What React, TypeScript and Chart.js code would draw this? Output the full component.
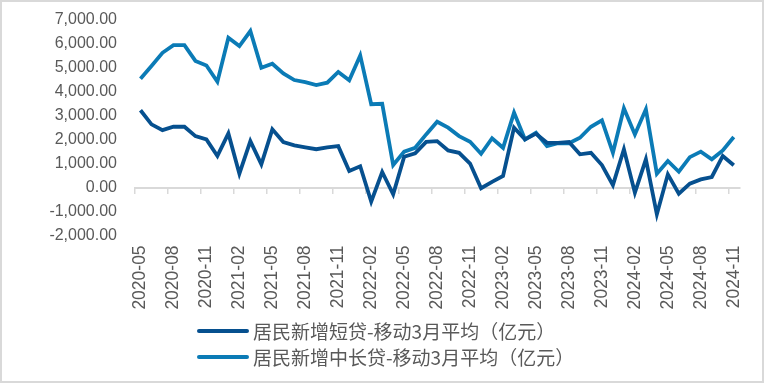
import React, { useEffect, useRef } from "react";
import { Chart, registerables } from "chart.js";

Chart.register(...registerables);

const months: string[] = [
  "2020-05", "2020-06", "2020-07", "2020-08", "2020-09", "2020-10", "2020-11", "2020-12",
  "2021-01", "2021-02", "2021-03", "2021-04", "2021-05", "2021-06", "2021-07", "2021-08",
  "2021-09", "2021-10", "2021-11", "2021-12", "2022-01", "2022-02", "2022-03", "2022-04",
  "2022-05", "2022-06", "2022-07", "2022-08", "2022-09", "2022-10", "2022-11", "2022-12",
  "2023-01", "2023-02", "2023-03", "2023-04", "2023-05", "2023-06", "2023-07", "2023-08",
  "2023-09", "2023-10", "2023-11", "2023-12", "2024-01", "2024-02", "2024-03", "2024-04",
  "2024-05", "2024-06", "2024-07", "2024-08", "2024-09", "2024-10", "2024-11",
];

const shortTermLoans: number[] = [
  3230, 2640, 2400, 2540, 2540, 2150, 2010, 1320, 2260, 580, 1940, 970, 2430, 1900, 1760, 1680,
  1600, 1680, 1730, 690, 890, -590, 650, -280, 1290, 1430, 1910, 1940, 1550, 1450, 1000, -30,
  240, 480, 2500, 2010, 2250, 1870, 1870, 1900, 1390, 1450, 940, 100, 1600, -220, 1180, -1120,
  550, -260, 160, 340, 440, 1320, 930,
];

const longTermLoans: number[] = [
  4550, 5080, 5630, 5950, 5950, 5290, 5100, 4420, 6260, 5910, 6540, 5000, 5170, 4770, 4490, 4400,
  4280, 4380, 4830, 4480, 5520, 3480, 3500, 940, 1500, 1660, 2220, 2750, 2500, 2150, 1910, 1410,
  2060, 1660, 3130, 2010, 2290, 1730, 1850, 1850, 2080, 2540, 2810, 1450, 3310, 2220, 3270, 580,
  1110, 660, 1270, 1500, 1180, 1550, 2110,
];

const seriesNames: string[] = [
  "居民新增短贷-移动3月平均（亿元）",
  "居民新增中长贷-移动3月平均（亿元）",
];
const seriesColors: string[] = ["#06508f", "#0b7bb6"];

const yMin = -2000;
const yMax = 7000;
const yStep = 1000;

export default function App() {
  const canvasRef = useRef<HTMLCanvasElement | null>(null);

  useEffect(() => {
    document.body.style.margin = "0";
    const ctx = canvasRef.current;
    if (!ctx) return;
    const tickFont = "'Liberation Sans', Arial, sans-serif";
    const chart = new Chart(ctx, {
      type: "line",
      data: {
        labels: months,
        datasets: [
          {
            label: seriesNames[0],
            data: shortTermLoans,
            borderColor: seriesColors[0],
            backgroundColor: seriesColors[0],
            borderWidth: 3.8,
            pointRadius: 0,
            tension: 0,
            fill: false,
          },
          {
            label: seriesNames[1],
            data: longTermLoans,
            borderColor: seriesColors[1],
            backgroundColor: seriesColors[1],
            borderWidth: 3.8,
            pointRadius: 0,
            tension: 0,
            fill: false,
          },
        ],
      },
      options: {
        animation: false,
        responsive: true,
        maintainAspectRatio: false,
        events: [],
        layout: { padding: { left: 0, right: 25.5, top: 20, bottom: 68.6 } },
        plugins: {
          legend: { display: false },
          tooltip: { enabled: false },
        },
        scales: {
          x: {
            type: "category",
            position: "bottom",
            offset: true,
            grid: { display: false, drawTicks: false },
            border: { display: false },
            ticks: {
              autoSkip: false,
              minRotation: 90,
              maxRotation: 90,
              padding: 10,
              color: "#595959",
              font: { family: tickFont, size: 17.5 },
              callback: (_v: any, i: number) => (i % 3 === 0 ? months[i] : ""),
            },
            afterFit: (s: any) => {
              s.height = 80;
            },
          },
          x2: {
            type: "category",
            position: { y: 0 } as any,
            offset: true,
            grid: {
              offset: true,
              drawOnChartArea: false,
              drawTicks: true,
              tickLength: 5,
              lineWidth: 1.5,
              color: (c: any) => (c.index % 3 === 0 ? "#d9d9d9" : "rgba(0,0,0,0)"),
            },
            border: { display: true, color: "#d9d9d9", width: 2 },
            ticks: { display: false, autoSkip: false },
          },
          y: {
            min: yMin,
            max: yMax,
            grid: { display: false, drawTicks: false },
            border: { display: false },
            ticks: {
              stepSize: yStep,
              autoSkip: false,
              padding: 18,
              color: "#595959",
              font: { family: tickFont, size: 16 },
              callback: (v: any) =>
                Number(v).toLocaleString("en-US", {
                  minimumFractionDigits: 2,
                  maximumFractionDigits: 2,
                }),
            },
            afterFit: (s: any) => {
              s.width = 135;
              s.paddingTop = 0;
              s.paddingBottom = 0;
            },
          },
        },
      },
    } as any);
    return () => chart.destroy();
  }, []);

  const legendRow = (i: number, top: number) => (
    <div
      key={i}
      style={{
        position: "absolute",
        left: 197,
        top: top - 12,
        height: 24,
        display: "flex",
        alignItems: "center",
      }}
    >
      <div
        style={{
          width: 52,
          height: 4,
          borderRadius: 2,
          background: seriesColors[i],
          marginRight: 4,
        }}
      />
      <span
        style={{
          fontFamily: "'Noto Sans CJK SC', sans-serif",
          fontSize: 19,
          color: "#595959",
          whiteSpace: "nowrap",
          lineHeight: "24px",
        }}
      >
        {seriesNames[i]}
      </span>
    </div>
  );

  return (
    <div
      style={{
        position: "fixed",
        left: 0,
        top: 0,
        width: 765,
        height: 384,
        background: "#ffffff",
      }}
    >
      <div style={{ position: "absolute", left: 0, top: 0, width: 765, height: 384 }}>
        <canvas ref={canvasRef} />
      </div>
      {legendRow(0, 331)}
      {legendRow(1, 357)}
      <div
        style={{
          position: "absolute",
          left: 0,
          top: 0,
          width: 764,
          height: 383,
          boxSizing: "border-box",
          border: "2px solid #d9d9d9",
          pointerEvents: "none",
        }}
      />
    </div>
  );
}
